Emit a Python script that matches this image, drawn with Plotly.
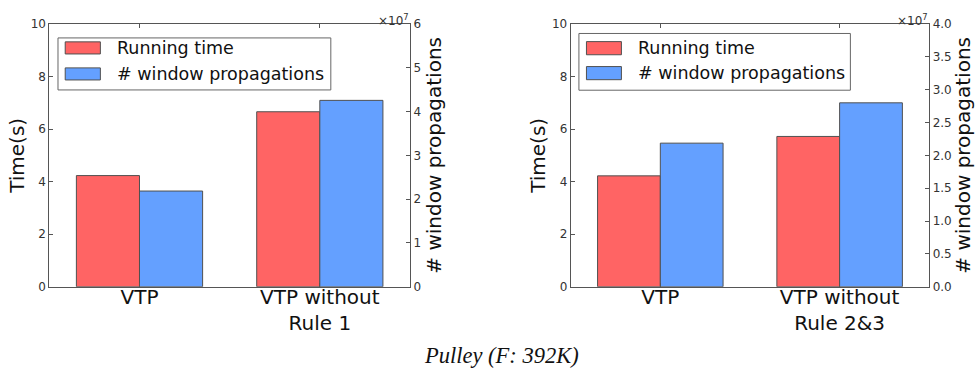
import plotly.graph_objects as go

# Pulley (F: 392K) ablation results
categories_a = ["VTP", "VTP without<br>Rule 1"]
categories_b = ["VTP", "VTP without<br>Rule 2&3"]
time_a = [4.23, 6.66]                  # running time (s)
props_a = [2.185e7, 4.256e7]           # window propagations
time_b = [4.22, 5.72]
props_b = [2.186e7, 2.80e7]

ticks_a_right = [0, 1e7, 2e7, 3e7, 4e7, 5e7, 6e7]
ticklabels_a_right = ["0", "1", "2", "3", "4", "5", "6"]
ticks_b_right = [0, 0.5e7, 1e7, 1.5e7, 2e7, 2.5e7, 3e7, 3.5e7, 4e7]
ticklabels_b_right = ["0.0", "0.5", "1.0", "1.5", "2.0", "2.5", "3.0", "3.5", "4.0"]
legend_labels = ["Running time", "# window propagations"]

RED = "#FF6464"
BLUE = "#64A0FF"
EDGE = "#505050"
AX = "#555555"
FONT = "DejaVu Sans"
W = 0.35

fig = go.Figure()

idx = [0, 1]
# left panel
fig.add_bar(x=[i - W / 2 for i in idx], y=time_a, width=W, marker=dict(color=RED, line=dict(color=EDGE, width=1)),
            xaxis="x", yaxis="y", showlegend=False)
fig.add_bar(x=[i + W / 2 for i in idx], y=props_a, width=W, marker=dict(color=BLUE, line=dict(color=EDGE, width=1)),
            xaxis="x", yaxis="y2", showlegend=False)
# right panel
fig.add_bar(x=[i - W / 2 for i in idx], y=time_b, width=W, marker=dict(color=RED, line=dict(color=EDGE, width=1)),
            xaxis="x2", yaxis="y3", showlegend=False)
fig.add_bar(x=[i + W / 2 for i in idx], y=props_b, width=W, marker=dict(color=BLUE, line=dict(color=EDGE, width=1)),
            xaxis="x2", yaxis="y4", showlegend=False)

xd1 = [0.0506, 0.4205]
xd2 = [0.5853, 0.9531]
yd = [0.2334, 0.9358]

tickfont = dict(family=FONT, size=12, color="#333333")
xcommon = dict(range=[-0.5, 1.5], tickmode="array", tickvals=idx, showline=True, mirror="ticks", linecolor=AX,
               linewidth=1, ticks="inside", ticklen=4, tickcolor=AX, showgrid=False, zeroline=False,
               automargin=False, ticklabelstandoff=-8, tickfont=dict(family=FONT, size=20, color="#111111"))
ycommon = dict(range=[0, 10], tickvals=[0, 2, 4, 6, 8, 10], showline=True, linecolor=AX, linewidth=1,
               ticks="inside", ticklen=4, tickcolor=AX, showgrid=False, zeroline=False, tickfont=tickfont,
               automargin=False,
               title=dict(text="Time(s)", font=dict(family=FONT, size=20, color="#111111"), standoff=0))
y2common = dict(side="right", showline=True, linecolor=AX, linewidth=1, ticks="inside", ticklen=4, tickcolor=AX,
                showgrid=False, zeroline=False, tickfont=tickfont, automargin=False,
                title=dict(text="# window propagations", font=dict(family=FONT, size=20, color="#111111"),
                           standoff=6))

fig.update_layout(
    width=975, height=374,
    margin=dict(l=0, r=0, t=0, b=0),
    paper_bgcolor="white", plot_bgcolor="white",
    barmode="overlay",
    xaxis=dict(domain=xd1, ticktext=categories_a, anchor="y", **xcommon),
    xaxis2=dict(domain=xd2, ticktext=categories_b, anchor="y3", **xcommon),
    yaxis=dict(domain=yd, anchor="x", **ycommon),
    yaxis2=dict(overlaying="y", anchor="x", range=[0, 6e7], tickvals=ticks_a_right, ticktext=ticklabels_a_right,
                **y2common),
    yaxis3=dict(domain=yd, anchor="x2", **ycommon),
    yaxis4=dict(overlaying="y3", anchor="x2", range=[0, 4e7], tickvals=ticks_b_right, ticktext=ticklabels_b_right,
                **y2common),
)


# legends drawn as boxed swatches in each panel
def add_legend(xref, yref, box_x, box_y, rows_y, half_h):
    fig.add_shape(type="rect", xref=xref, yref=yref, x0=box_x[0], x1=box_x[1], y0=box_y[0], y1=box_y[1],
                  line=dict(color="#666666", width=1), fillcolor="white", layer="above")
    for col, label, yc in zip([RED, BLUE], legend_labels, rows_y):
        fig.add_shape(type="rect", xref=xref, yref=yref, x0=-0.412, x1=-0.217, y0=yc - half_h, y1=yc + half_h,
                      line=dict(color=EDGE, width=1), fillcolor=col, layer="above")
        fig.add_annotation(xref=xref, yref=yref, x=-0.138, y=yc, text=label, showarrow=False,
                           xanchor="left", yanchor="middle", font=dict(family=FONT, size=17.5, color="#111111"))


add_legend("x", "y", [-0.452, 1.061], [7.49, 9.47], [9.09, 8.10], 0.23)
add_legend("x2", "y3", [-0.454, 1.06], [7.48, 9.64], [9.08, 8.13], 0.25)

# scale multipliers for the right-hand axes
for xd in (xd1, xd2):
    fig.add_annotation(xref="paper", yref="paper", x=xd[1] + 0.001, y=yd[1] - 0.017, text="×10<sup>7</sup>",
                       showarrow=False, xanchor="right", yanchor="bottom",
                       font=dict(family=FONT, size=12, color="#333333"))

fig.add_annotation(xref="paper", yref="paper", x=0.514, y=0.0508, text="<i>Pulley (F: 392K)</i>", showarrow=False,
                   xanchor="center", yanchor="middle", font=dict(family="Liberation Serif", size=22.5, color="#111111"))

fig.write_html("out.html")
